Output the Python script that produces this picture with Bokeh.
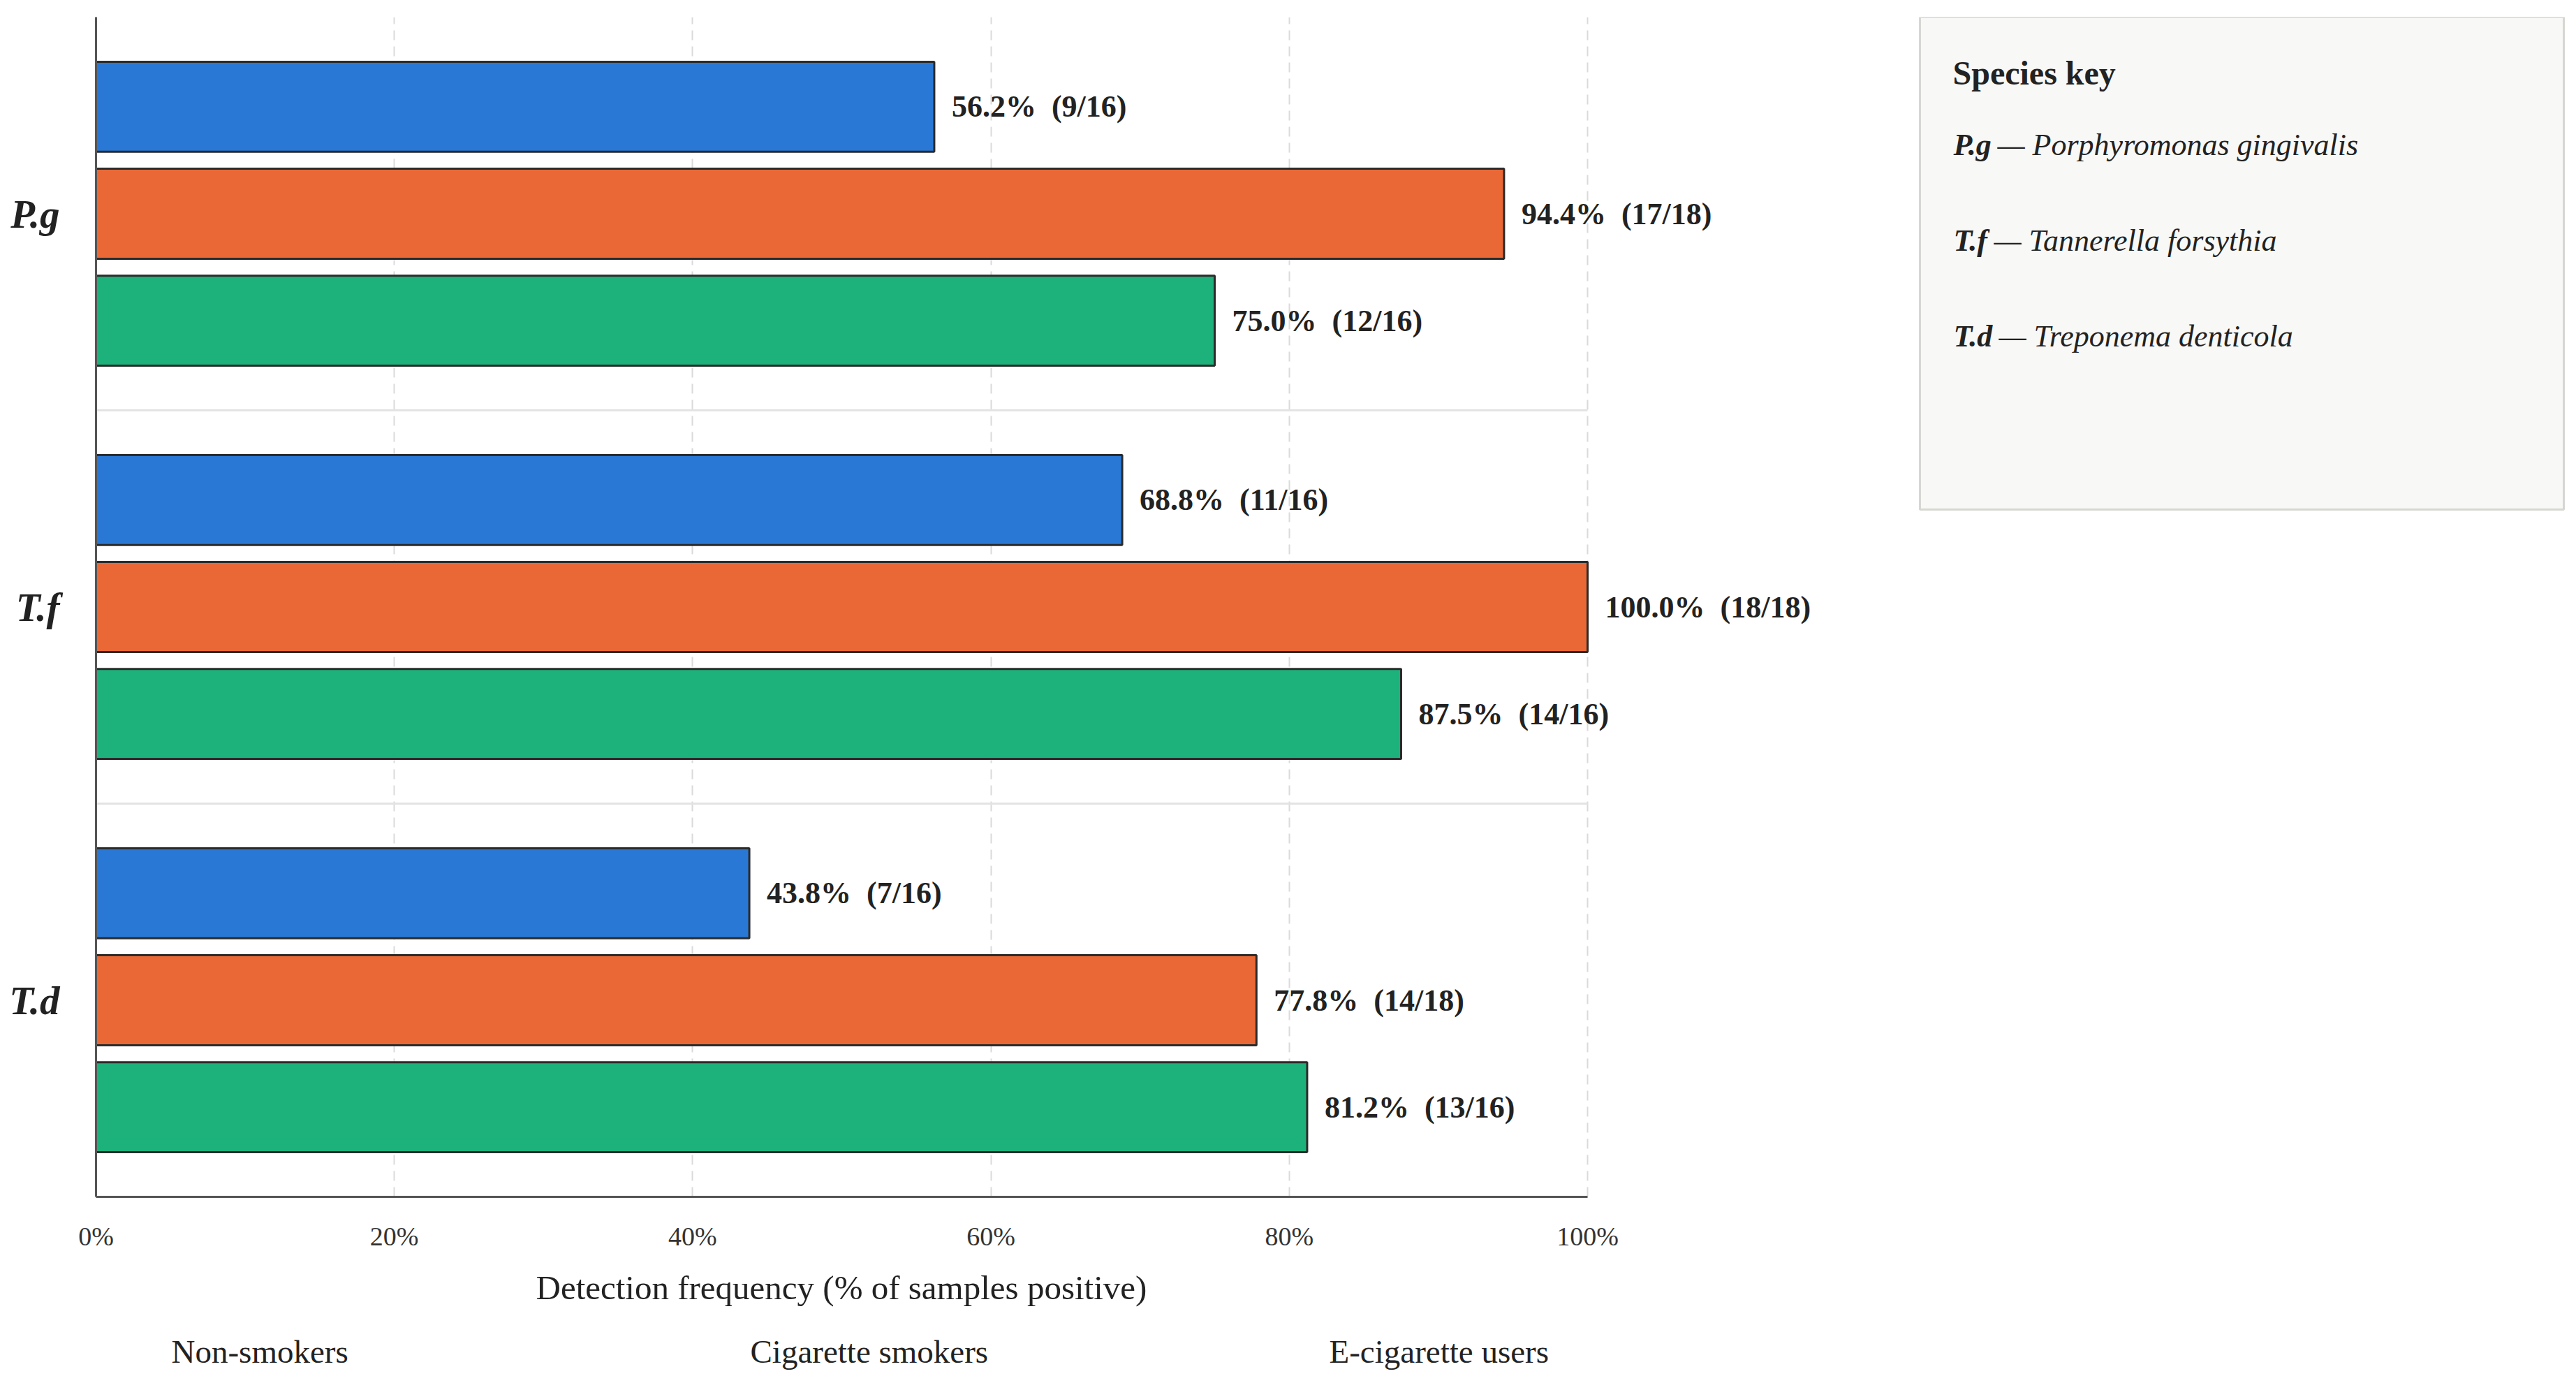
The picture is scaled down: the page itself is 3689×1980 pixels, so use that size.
from bokeh.plotting import figure
from bokeh.models import (Range1d, ColumnDataSource, FixedTicker, Title,
                          PrintfTickFormatter, Legend, LegendItem)
from bokeh.layouts import column
from bokeh.embed import file_html
from bokeh.resources import INLINE
from bokeh.core.properties import value

# ---------------- data ----------------
species = ["P.g", "T.f", "T.d"]
species_names = ["Porphyromonas gingivalis", "Tannerella forsythia", "Treponema denticola"]
groups = ["Non-smokers", "Cigarette smokers", "E-cigarette users"]
colors = ["#2a78d6", "#ea6836", "#1db27b"]
non_smokers = [56.2, 68.8, 43.8]
cig_smokers = [94.4, 100.0, 77.8]
ecig_users = [75.0, 87.5, 81.2]
non_counts = ["9/16", "11/16", "7/16"]
cig_counts = ["17/18", "18/18", "14/18"]
ecig_counts = ["12/16", "14/16", "13/16"]
x_ticks = [0, 20, 40, 60, 80, 100]
x_label = "Detection frequency (% of samples positive)"
key_title = "Species key"

FONT = "Liberation Serif"
TXT = "#222222"

values = [non_smokers, cig_smokers, ecig_users]
counts = [non_counts, cig_counts, ecig_counts]
offsets = [0.272, 0.0, -0.272]
n = len(species)
centers = [n - 0.5 - i for i in range(n)]          # P.g at top

# layout (pixels)
W, H = 3680, 1895
LEG_H = 80
BL, BR, BT = 137, 6, 24
FRAME_W = W - BL - BR
FRAME_H = 1689
BB = H - BT - FRAME_H
PX_PER_PCT = 21.36
KEY_X0 = 2612          # key box left, px from frame left
KEY_W, KEY_H = 922, 705

p = figure(width=W, height=H,
           y_range=Range1d(0, n),
           x_range=Range1d(0, FRAME_W / PX_PER_PCT),
           output_backend="svg", toolbar_location=None,
           min_border_top=BT, min_border_left=BL, min_border_right=BR,
           min_border_bottom=BB)
p.outline_line_color = None
p.background_fill_color = "white"
p.extra_x_ranges = {"key": Range1d(-KEY_X0, FRAME_W - KEY_X0)}
p.extra_y_ranges = {"key": Range1d(FRAME_H, 0)}

# group separators
sep_y = [c - 0.5 for c in centers[:-1]]
p.segment(x0=x_ticks[0], x1=x_ticks[-1], y0=sep_y, y1=sep_y,
          line_color="#e3e3e3", line_width=3)

for vals, cnts, off, col in zip(values, counts, offsets, colors):
    src = ColumnDataSource(dict(
        y=[c + off for c in centers], val=vals,
        label=[f"{v:.1f}%\u00a0\u00a0({c})" for v, c in zip(vals, cnts)]))
    p.hbar(y="y", left=0, right="val",
           height=0.229, fill_color=col, line_color="#2b2b2b",
           line_width=3, source=src)
    p.text(x="val", y="y", text="label",
           source=src, x_offset=25, text_baseline="middle", text_align="left",
           text_font=value(FONT), text_font_style="bold",
           text_font_size="44px", text_color=TXT)

# grid
p.ygrid.visible = False
p.xgrid.ticker = FixedTicker(ticks=x_ticks)
p.xgrid.grid_line_color = "#dadada"
p.xgrid.grid_line_width = 2
p.xgrid.grid_line_dash = "14 9"

# x axis
xa = p.xaxis[0]
xa.ticker = FixedTicker(ticks=x_ticks)
xa.formatter = PrintfTickFormatter(format="%d%%")
xa.bounds = (x_ticks[0], x_ticks[-1])
xa.axis_line_color = "#555555"
xa.axis_line_width = 3
xa.major_tick_line_color = None
xa.minor_tick_line_color = None
xa.major_label_text_font = FONT
xa.major_label_text_font_size = "38px"
xa.major_label_text_color = "#333333"
xa.major_label_standoff = 29

# axis title placed under the 0-100 % span
xt = Title(text=x_label, align="left", offset=630,
           text_font=FONT, text_font_style="normal", text_font_size="49px",
           text_color=TXT, standoff=40)
p.add_layout(xt, "below")

# y axis
ya = p.yaxis[0]
ya.ticker = FixedTicker(ticks=centers)
ya.major_label_overrides = {c: s for c, s in zip(centers, species)}
ya.axis_line_color = "#555555"
ya.axis_line_width = 3
ya.major_tick_line_color = None
ya.minor_tick_line_color = None
ya.major_label_text_font = FONT
ya.major_label_text_font_style = "bold italic"
ya.major_label_text_font_size = "57px"
ya.major_label_text_color = TXT
ya.major_label_standoff = 46

# ---------------- species key (drawn in pixel-like extra ranges) ----------------
p.quad(left=[0], right=[KEY_W], top=[0], bottom=[KEY_H],
       x_range_name="key", y_range_name="key",
       fill_color="#f8f8f6", line_color="#d6d6d2", line_width=3)
p.text(x=[47], y=[80], text=[key_title], text_baseline="middle",
       x_range_name="key", y_range_name="key",
       text_font=value(FONT), text_font_style="bold", text_font_size="48px",
       text_color=TXT)
row_y = [183 + 137 * i for i in range(n)]
name_x = [100, 95, 102]
p.text(x=[48] * n, y=row_y, text=species, text_baseline="middle",
       x_range_name="key", y_range_name="key",
       text_font=value(FONT), text_font_style="bold italic", text_font_size="44px",
       text_color=TXT)
p.text(x=name_x, y=row_y, text=["\u00a0\u2014 " + s for s in species_names],
       x_range_name="key", y_range_name="key",
       text_baseline="middle", text_font=value(FONT), text_font_style="italic",
       text_font_size="44px", text_color=TXT)

# ---------------- legend strip below the chart ----------------
lf = figure(width=W, height=LEG_H, x_range=Range1d(0, 1), y_range=Range1d(0, 1),
            output_backend="svg", toolbar_location=None,
            min_border_top=0, min_border_left=0, min_border_right=0,
            min_border_bottom=0)
lf.axis.visible = False
lf.grid.visible = False
lf.outline_line_color = None
leg_renderers = [lf.hbar(y=[], right=[], left=0, height=0.5, fill_color=col,
                         line_color="#2b2b2b", line_width=3) for col in colors]
legend = Legend(items=[LegendItem(label=g, renderers=[r]) for g, r in zip(groups, leg_renderers)],
                orientation="horizontal", location=(7.5, 0),
                glyph_width=85, glyph_height=80, label_standoff=16,
                label_width=700, spacing=28, padding=0, margin=0,
                border_line_color=None, background_fill_alpha=0,
                label_text_font=FONT, label_text_font_size="47px",
                label_text_color=TXT)
lf.add_layout(legend, "center")

layout = column(p, lf)
open("out.html", "w").write(file_html(layout, INLINE))
